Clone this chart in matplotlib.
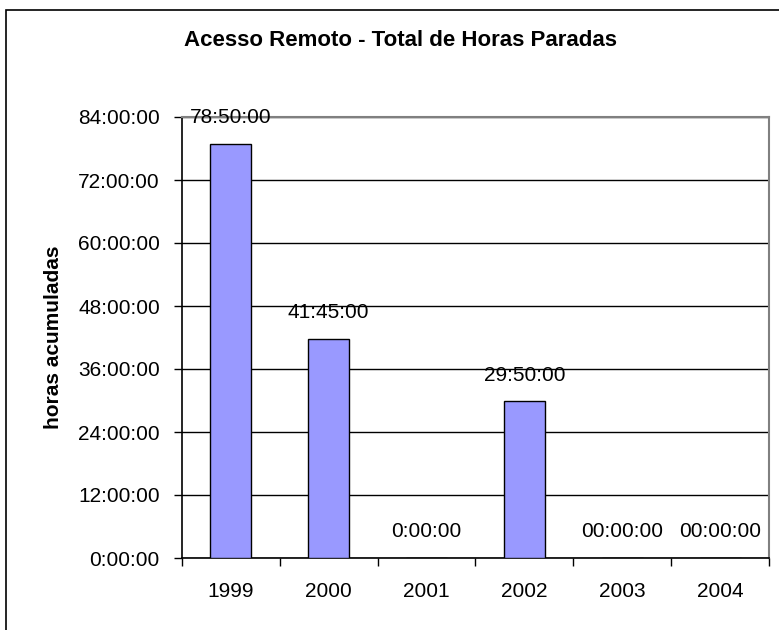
import matplotlib
matplotlib.use("Agg")
import matplotlib.pyplot as plt
from matplotlib.patches import Rectangle

plt.rcParams["font.family"] = ["Liberation Sans", "DejaVu Sans"]

# data: accumulated downtime per year (hours)
years = ["1999", "2000", "2001", "2002", "2003", "2004"]
hours = [78 + 50 / 60, 41 + 45 / 60, 0, 29 + 50 / 60, 0, 0]
value_labels = ["78:50:00", "41:45:00", "0:00:00", "29:50:00", "00:00:00", "00:00:00"]
ytick_vals = [0, 12, 24, 36, 48, 60, 72, 84]
ytick_labels = ["0:00:00", "12:00:00", "24:00:00", "36:00:00",
                "48:00:00", "60:00:00", "72:00:00", "84:00:00"]

W, H = 779, 630
fig = plt.figure(figsize=(W / 100, H / 100), dpi=100)

# outer chart frame (bottom/right run off the image)
fig.patches.append(Rectangle((6 / W, -0.05), 1.1, 1 - 10 / H + 0.05,
                             transform=fig.transFigure, fill=False,
                             edgecolor="black", linewidth=1.2))

ax = fig.add_axes([182 / W, 1 - 558 / H, 587 / W, 441 / H])

x = list(range(len(years)))
ax.bar(x, hours, width=0.42, color="#9999FF", edgecolor="black",
       linewidth=1.0, zorder=3)

for xi, h, lab in zip(x, hours, value_labels):
    ax.annotate(lab, (xi, h), xytext=(0, 12), textcoords="offset points",
                ha="center", va="bottom", fontsize=15, zorder=4,
                annotation_clip=False)

ax.set_xlim(-0.5, len(years) - 0.5)
ax.set_ylim(0, 84)
ax.set_yticks(ytick_vals)
ax.set_yticklabels(ytick_labels)
ax.set_xticks(x)
ax.set_xticklabels(years)
ax.set_xticks([i - 0.5 for i in range(len(years) + 1)], minor=True)

ax.tick_params(axis="y", direction="out", length=6, width=1, pad=10,
               labelsize=15)
ax.tick_params(axis="x", which="major", length=0, pad=17, labelsize=15)
ax.tick_params(axis="x", which="minor", direction="out", length=6, width=1)

ax.grid(axis="y", color="black", linewidth=1, zorder=0)
ax.spines["left"].set_color("black")
ax.spines["bottom"].set_color("black")
ax.spines["left"].set_linewidth(1.2)
ax.spines["bottom"].set_linewidth(1.2)
ax.spines["top"].set_color("#808080")
ax.spines["right"].set_color("#808080")
ax.spines["top"].set_linewidth(1.5)
ax.spines["right"].set_linewidth(1.5)

fig.text(400 / W, 1 - 41 / H, "Acesso Remoto - Total de Horas Paradas",
         ha="center", va="center", fontsize=16, fontweight="bold")
fig.text(54 / W, 1 - 337 / H, "horas acumuladas", rotation=90,
         ha="center", va="center", fontsize=15, fontweight="bold")

fig.savefig("out.png", dpi=100)
